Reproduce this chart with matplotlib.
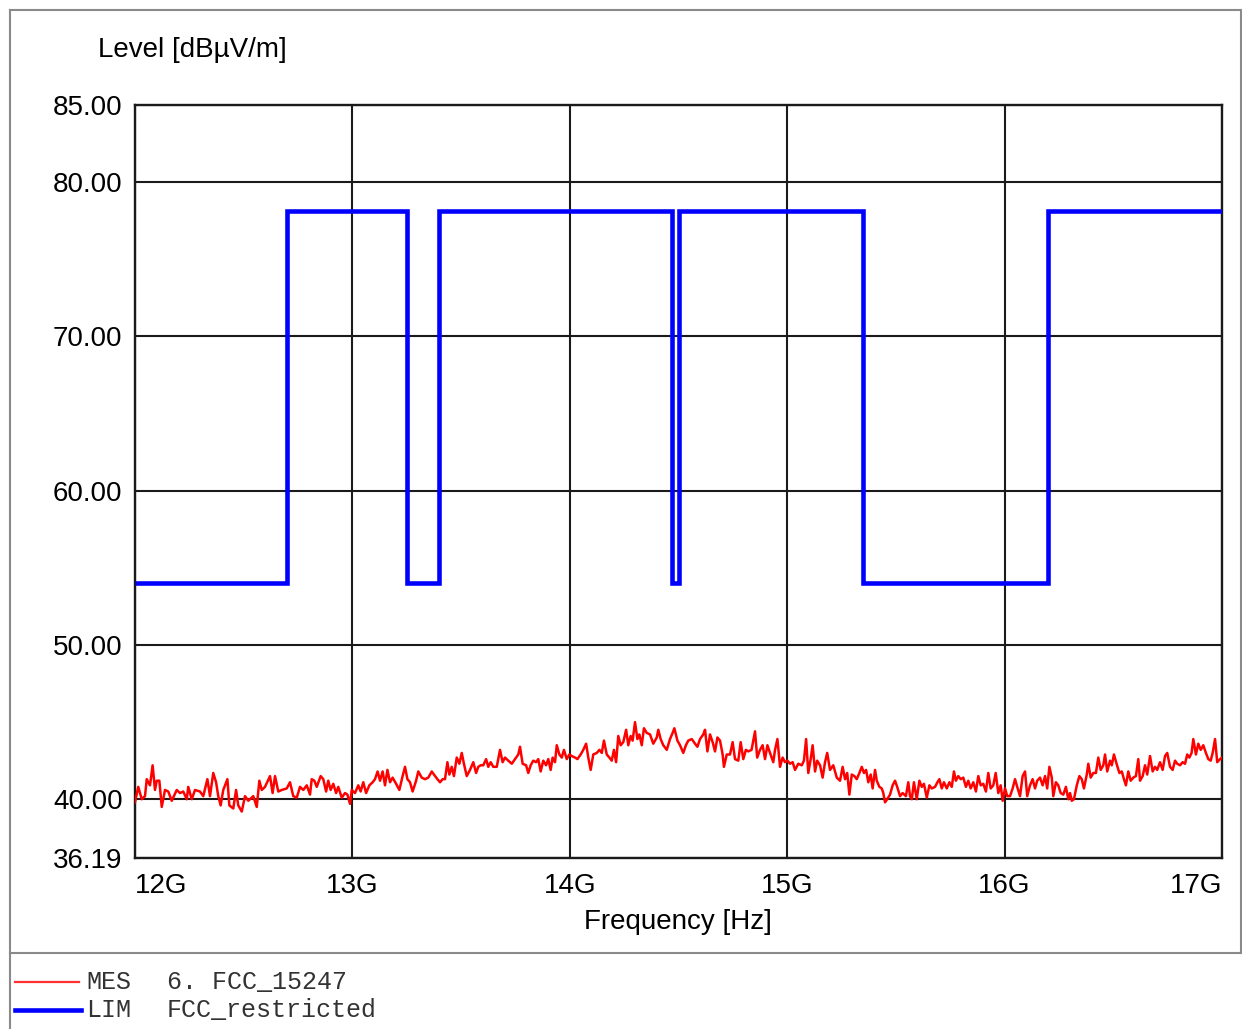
import matplotlib
matplotlib.use("Agg")
import matplotlib.pyplot as plt
from matplotlib.lines import Line2D

plt.rcParams["font.family"] = ["Liberation Sans", "DejaVu Sans"]

mes_freq_ghz = [
    12.000, 12.015, 12.031, 12.046, 12.054, 12.069, 12.081, 12.092, 12.100, 12.112,
    12.123, 12.138, 12.153, 12.169, 12.192, 12.207, 12.222, 12.238, 12.245, 12.261,
    12.276, 12.299, 12.314, 12.333, 12.345, 12.360, 12.373, 12.383, 12.394, 12.406,
    12.425, 12.434, 12.452, 12.465, 12.475, 12.491, 12.506, 12.521, 12.544, 12.560,
    12.572, 12.583, 12.598, 12.621, 12.633, 12.644, 12.659, 12.675, 12.698, 12.713,
    12.728, 12.744, 12.759, 12.774, 12.790, 12.805, 12.813, 12.825,
    12.836, 12.854, 12.866, 12.879, 12.889, 12.900, 12.912, 12.925, 12.935, 12.951,
    12.966, 12.977, 12.989, 12.997, 13.012, 13.027, 13.038, 13.050, 13.063, 13.078,
    13.093, 13.104, 13.116, 13.127, 13.139, 13.150, 13.161, 13.173, 13.185, 13.201,
    13.216, 13.231, 13.242, 13.253, 13.265, 13.277, 13.293, 13.303, 13.319, 13.334,
    13.349, 13.365, 13.375, 13.391, 13.403, 13.415, 13.426, 13.437, 13.446, 13.457,
    13.467, 13.480, 13.492, 13.503, 13.513, 13.526, 13.541, 13.556, 13.569, 13.579,
    13.590, 13.602, 13.615, 13.625, 13.636, 13.648,
    13.664, 13.679, 13.691, 13.702, 13.717, 13.733, 13.748, 13.763, 13.771, 13.783,
    13.799, 13.809, 13.820, 13.832, 13.845, 13.855, 13.866, 13.878, 13.891, 13.901,
    13.912, 13.921, 13.932, 13.940, 13.952, 13.963, 13.973, 13.986, 13.998, 14.009,
    14.024, 14.035, 14.050, 14.062, 14.075, 14.085, 14.096, 14.108, 14.124, 14.136,
    14.147, 14.157, 14.170, 14.182, 14.193, 14.203, 14.213, 14.223, 14.234, 14.246,
    14.259, 14.269, 14.280, 14.289, 14.300, 14.311, 14.320, 14.331, 14.341, 14.354,
    14.369, 14.384, 14.400, 14.407, 14.418, 14.430, 14.446, 14.461, 14.473, 14.481,
    14.495, 14.507, 14.522, 14.534, 14.545, 14.561, 14.576, 14.587, 14.599, 14.614,
    14.622, 14.633, 14.645, 14.657, 14.668, 14.679, 14.691, 14.703, 14.709, 14.722,
    14.737, 14.749, 14.760, 14.775, 14.786, 14.798, 14.810, 14.821, 14.836, 14.852,
    14.862, 14.875, 14.887, 14.898, 14.909, 14.921, 14.936, 14.944, 14.955, 14.967,
    14.979, 14.990, 15.001, 15.013, 15.025, 15.036, 15.051, 15.067, 15.077, 15.087,
    15.097, 15.108, 15.117, 15.128, 15.138, 15.151, 15.163, 15.174, 15.184, 15.197,
    15.212, 15.228, 15.243, 15.255, 15.266, 15.276, 15.286, 15.297, 15.309,
    15.320, 15.332, 15.343, 15.353, 15.363, 15.373, 15.384, 15.393, 15.404, 15.412,
    15.424, 15.435, 15.442, 15.450, 15.460, 15.473, 15.485, 15.496, 15.506, 15.519,
    15.531, 15.546, 15.557, 15.565, 15.573, 15.583, 15.596, 15.608, 15.619, 15.629,
    15.642, 15.654, 15.665, 15.680, 15.691, 15.700, 15.711, 15.721, 15.734, 15.746,
    15.757, 15.767, 15.776, 15.787, 15.798, 15.810, 15.822, 15.833, 15.844, 15.856,
    15.868, 15.879, 15.890, 15.902, 15.914, 15.925, 15.936, 15.948, 15.959, 15.971,
    15.982, 15.991, 16.002, 16.012, 16.025, 16.037, 16.048, 16.058, 16.071, 16.083,
    16.094, 16.104, 16.117, 16.129,
    16.140, 16.150, 16.163, 16.175, 16.186, 16.196, 16.206, 16.217, 16.224, 16.236,
    16.247, 16.258, 16.270, 16.282, 16.293, 16.301, 16.309, 16.319, 16.332, 16.344,
    16.355, 16.365, 16.378, 16.385, 16.396, 16.408, 16.420, 16.431, 16.442, 16.454,
    16.462, 16.472, 16.485, 16.493, 16.503, 16.515, 16.528, 16.539, 16.549, 16.558,
    16.569, 16.580, 16.592, 16.604, 16.615, 16.623, 16.635, 16.646, 16.656, 16.669,
    16.681, 16.692, 16.702, 16.715, 16.727, 16.738, 16.748, 16.761, 16.773, 16.784,
    16.794, 16.807, 16.819, 16.830, 16.840, 16.850, 16.860, 16.868, 16.880, 16.891,
    16.902, 16.914, 16.926, 16.937, 16.948, 16.957, 16.968, 16.978, 16.991, 17.000,
]
mes_level = [
    39.8, 40.8, 40.0, 40.2, 41.3, 40.9, 42.2, 40.6, 41.2, 41.2,
    39.5, 40.6, 40.5, 39.9, 40.6, 40.4, 40.5, 40.0, 40.8, 40.0,
    40.6, 40.5, 40.2, 41.3, 40.2, 41.7, 41.1, 40.2, 39.6, 40.6,
    41.3, 39.6, 39.4, 40.6, 39.6, 39.2, 40.2, 39.9, 40.2, 39.5,
    41.2, 40.6, 40.8, 41.5, 40.4, 41.5, 40.5, 40.6, 40.7, 41.1,
    40.2, 40.1, 40.8, 40.6, 40.9, 40.3, 41.3, 41.2,
    40.8, 41.5, 41.3, 40.5, 41.2, 40.6, 41.0, 40.4, 40.8, 40.1,
    40.4, 40.3, 39.7, 40.6, 40.4, 40.9, 40.5, 41.1, 40.4, 40.9,
    41.1, 41.3, 41.8, 41.2, 41.8, 40.9, 41.9, 41.1, 41.4, 41.0,
    40.6, 41.5, 42.1, 41.3, 41.1, 40.5, 41.2, 41.8, 41.4, 41.3,
    41.4, 41.8, 41.6, 41.3, 41.1, 41.3, 41.3, 42.4, 41.6, 42.1,
    41.5, 42.7, 42.3, 43.0, 42.3, 41.5, 41.9, 42.4, 41.7, 42.1,
    42.2, 42.2, 42.6, 42.1, 42.4, 42.1,
    42.1, 43.2, 42.4, 42.7, 42.5, 42.3, 42.6, 42.9, 43.4, 42.3,
    42.2, 41.7, 42.2, 42.5, 42.4, 42.6, 41.8, 42.5, 42.2, 42.6,
    41.9, 42.7, 42.4, 43.5, 42.9, 42.7, 43.2, 42.6, 42.9, 42.8,
    42.7, 42.6, 42.9, 43.2, 43.6, 42.7, 41.9, 42.9, 43.0, 43.2,
    43.0, 43.8, 42.9, 42.7, 42.5, 43.2, 42.4, 44.1, 43.5, 43.7,
    44.5, 43.5, 44.1, 43.8, 45.0, 43.9, 44.2, 43.5, 44.6, 44.3,
    44.2, 43.6, 44.0, 44.5, 43.9, 43.5, 43.2, 43.9, 44.3, 44.6,
    43.8, 43.5, 43.0, 43.5, 43.8, 43.9, 43.6, 43.4, 43.9, 44.2,
    44.5, 43.1, 44.2, 43.7, 43.1, 44.0, 43.8, 42.9, 42.1, 42.9,
    42.9, 43.7, 42.6, 42.5, 43.7, 42.6, 43.2, 43.1, 43.2, 44.4,
    42.7, 43.2, 43.5, 42.6, 43.5, 43.0, 42.4, 43.2, 43.9, 42.1,
    42.7, 42.4, 42.5, 42.3, 42.4, 41.9, 42.3, 42.2, 42.5, 43.9,
    41.7, 42.6, 43.5, 41.8, 42.5, 42.2, 41.4, 42.4, 43.0, 41.9,
    42.2, 41.4, 41.2, 42.1, 41.3, 41.7, 40.3, 41.6, 41.5,
    41.3, 41.7, 42.1, 41.7, 41.9, 41.1, 41.6, 40.7, 41.9, 41.2,
    40.8, 40.7, 40.4, 39.8, 40.0, 40.3, 40.9, 41.2, 40.8, 40.2,
    40.4, 40.2, 41.1, 40.2, 40.0, 41.1, 40.0, 41.2, 40.8, 41.0,
    40.1, 40.9, 40.7, 40.8, 41.1, 41.3, 40.7, 41.1, 40.7, 41.1,
    40.8, 41.8, 41.2, 41.5, 41.3, 41.4, 40.8, 41.2, 40.7, 41.1,
    40.5, 41.5, 40.9, 41.0, 40.5, 41.7, 40.7, 40.9, 41.7, 40.4,
    40.9, 39.9, 40.7, 40.2, 40.2, 40.7, 41.3, 40.8, 40.2, 41.5,
    41.8, 40.2, 40.9, 41.3,
    40.7, 41.2, 41.4, 40.9, 41.5, 40.7, 42.1, 41.4, 40.2, 41.1,
    40.9, 40.4, 40.3, 40.8, 40.0, 40.4, 39.9, 40.0, 40.9, 41.5,
    41.3, 40.7, 41.6, 42.3, 41.4, 41.7, 41.7, 42.7, 41.9, 42.2,
    42.9, 41.8, 42.5, 42.2, 42.9, 42.3, 41.7, 41.8, 41.3, 40.9,
    41.8, 41.2, 41.4, 41.5, 42.6, 41.2, 41.5, 42.2, 41.6, 42.8,
    41.8, 42.1, 41.9, 42.4, 41.9, 42.8, 43.0, 42.1, 41.9, 42.5,
    42.3, 42.2, 42.4, 42.3, 42.9, 42.7, 43.0, 43.9, 42.9, 43.6,
    43.2, 43.5, 43.0, 42.6, 42.5, 43.0, 43.9, 42.4, 42.6, 42.7,
]

# limit line (LIM FCC_restricted): band edges and level per band
lim_edges_ghz = [12.0, 12.7, 13.25, 13.4, 14.47, 14.5, 15.35, 16.2, 17.0]
lim_level = [54.0, 78.1, 54.0, 78.1, 54.0, 78.1, 54.0, 78.1]

x_ticks = [12, 13, 14, 15, 16, 17]
x_labels = ["12G", "13G", "14G", "15G", "16G", "17G"]
y_ticks = [36.19, 40, 50, 60, 70, 80, 85]

W, H = 1242, 1029


def fx(px):
    return px / W


def fy(py):
    return 1 - py / H


fig = plt.figure(figsize=(W / 100, H / 100), dpi=100)
ax = fig.add_axes([fx(135), fy(858), (1222 - 135) / W, (858 - 105) / H])

ax.plot(mes_freq_ghz, mes_level, color="#ff0000", linewidth=1.8, zorder=3)
ax.stairs(lim_level, lim_edges_ghz, baseline=None, color="#0000ff",
          linewidth=3.3, zorder=4)

ax.set_xlim(12, 17)
ax.set_ylim(36.19, 85)
ax.set_xticks(x_ticks)
ax.set_xticklabels(x_labels)
ax.set_yticks(y_ticks)
ax.set_yticklabels([f"{v:.2f}" for v in y_ticks])
xl = ax.get_xticklabels()
xl[0].set_ha("left")
xl[-1].set_ha("right")
ax.tick_params(axis="both", length=0, labelsize=20, colors="#000000")
ax.tick_params(axis="x", pad=11)
ax.tick_params(axis="y", pad=9)
ax.grid(True, color="#1a1a1a", linewidth=1.5, zorder=1)
ax.set_axisbelow(True)
for sp in ax.spines.values():
    sp.set_color("#1a1a1a")
    sp.set_linewidth(1.7)

fig.text(fx(98), fy(50), "Level [dBµV/m]", fontsize=20, va="center", ha="left")
fig.text(fx(678), fy(922), "Frequency [Hz]", fontsize=20, va="center", ha="center")

# outer frame and legend separator
frame = dict(color="#8a8a8a", linewidth=1.5, transform=fig.transFigure)
fig.add_artist(Line2D([fx(9.5), fx(1240.5)], [fy(10), fy(10)], **frame))
fig.add_artist(Line2D([fx(9.5), fx(9.5)], [fy(10), fy(1029)], **frame))
fig.add_artist(Line2D([fx(1240.5), fx(1240.5)], [fy(10), fy(953)], **frame))
fig.add_artist(Line2D([fx(9.5), fx(1240.5)], [fy(953), fy(953)], **frame))

# legend rows
mono = ["Liberation Mono", "DejaVu Sans Mono"]
fig.add_artist(Line2D([fx(15), fx(79)], [fy(982), fy(982)], color="#ff3030",
                      linewidth=1.6, transform=fig.transFigure))
fig.add_artist(Line2D([fx(15), fx(81)], [fy(1010), fy(1010)], color="#0000ff",
                      linewidth=3.3, transform=fig.transFigure))
for y, tag, name in [(982, "MES", "6. FCC_15247"), (1010, "LIM", "FCC_restricted")]:
    fig.text(fx(86), fy(y), tag, family=mono, fontsize=18, color="#333333",
             va="center", ha="left")
    fig.text(fx(167), fy(y), name, family=mono, fontsize=18, color="#333333",
             va="center", ha="left")

fig.savefig("out.png", dpi=100)
